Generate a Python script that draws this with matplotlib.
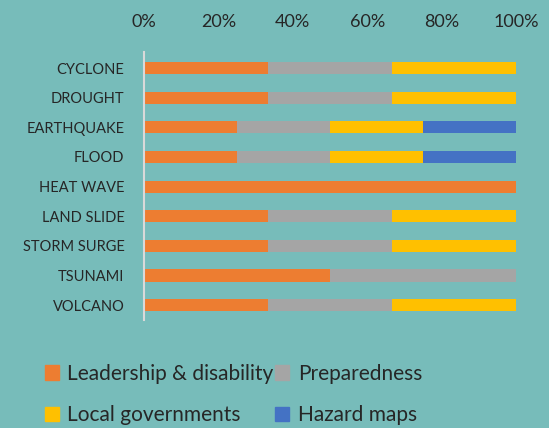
import numpy as np
import matplotlib.pyplot as plt
from matplotlib.patches import Patch

# data
categories = ['CYCLONE', 'DROUGHT', 'EARTHQUAKE', 'FLOOD', 'HEAT WAVE',
              'LAND SLIDE', 'STORM SURGE', 'TSUNAMI', 'VOLCANO']
leadership = [1, 1, 1, 1, 1, 1, 1, 1, 1]
preparedness = [1, 1, 1, 1, 0, 1, 1, 1, 1]
local_gov = [1, 1, 1, 1, 0, 1, 1, 0, 1]
hazard_maps = [0, 0, 1, 1, 0, 0, 0, 0, 0]
series_names = ['Leadership & disability', 'Preparedness', 'Local governments', 'Hazard maps']
colors = ['#ED7D31', '#A5A5A5', '#FFC000', '#4472C4']

plt.rcParams['font.family'] = ['Lato', 'DejaVu Sans']
bg = '#77BCBA'
txt = '#262626'

data = np.array([leadership, preparedness, local_gov, hazard_maps], dtype=float)
pct = data / data.sum(axis=0)

fig = plt.figure(figsize=(5.49, 4.28), dpi=100, facecolor=bg)
ax = fig.add_axes([0.262, 0.2523, 0.678, 0.6262])
ax.set_facecolor(bg)

y = np.arange(len(categories))
left = np.zeros(len(categories))
for vals, name, c in zip(pct, series_names, colors):
    ax.barh(y, vals, left=left, height=0.41, color=c, label=name)
    left += vals

ax.set_ylim(8.5, -0.54)
ax.set_xlim(0, 1)
ax.set_yticks(y)
ax.set_yticklabels(categories, fontsize=10.5, color=txt)
ax.set_xticks(np.linspace(0, 1, 6))
ax.set_xticklabels(['0%', '20%', '40%', '60%', '80%', '100%'], fontsize=13, color=txt)
ax.xaxis.tick_top()
ax.tick_params(axis='both', length=0)
ax.tick_params(axis='x', pad=16)
ax.tick_params(axis='y', pad=14)
for s in ['top', 'right', 'bottom']:
    ax.spines[s].set_visible(False)
ax.spines['left'].set_color('#D9D9D9')
ax.spines['left'].set_linewidth(1.5)

handles = [Patch(color=c) for c in colors]
order = [0, 2, 1, 3]
fig.legend([handles[i] for i in order], [series_names[i] for i in order],
           ncol=2, loc='upper left', bbox_to_anchor=(0.066, 0.17),
           frameon=False, fontsize=15, labelcolor=txt,
           handlelength=0.7, handleheight=0.7, handletextpad=0.4,
           columnspacing=0.05, labelspacing=1.05, borderaxespad=0)

plt.savefig('out.png', dpi=100, facecolor=bg)
